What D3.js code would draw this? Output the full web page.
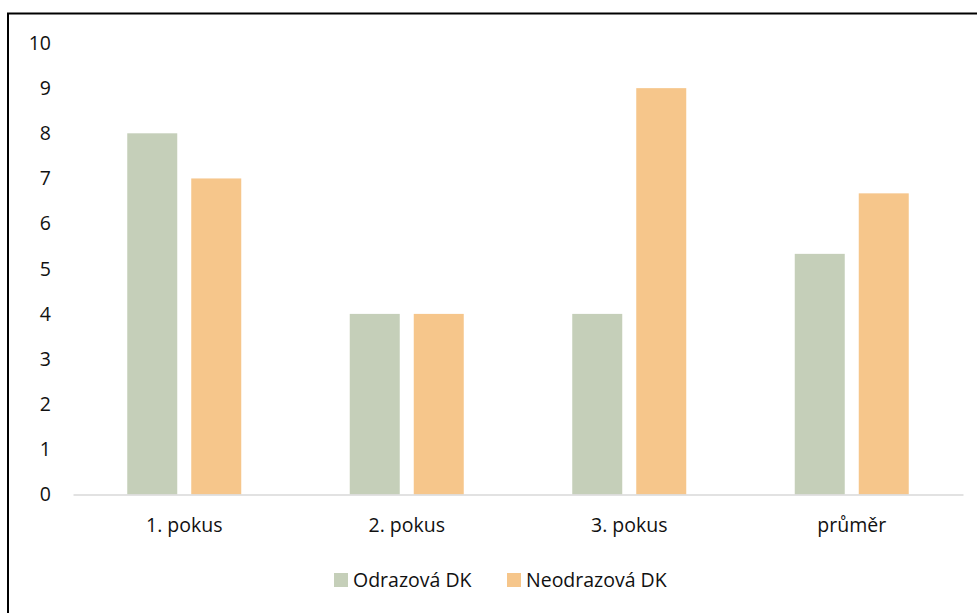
<!DOCTYPE html>
<html>
<head>
<meta charset="utf-8">
<script src="https://cdn.jsdelivr.net/npm/d3@7"></script>
<style>
  html, body { margin: 0; padding: 0; background: #fff; }
  svg { display: block; }
  text { font-family: "Open Sans", "Noto Sans", sans-serif; fill: #111; }
</style>
</head>
<body>
<svg id="chart" width="977" height="613"></svg>
<script>
// Chart data
const categories = ["1. pokus", "2. pokus", "3. pokus", "průměr"];
const seriesNames = ["Odrazová DK", "Neodrazová DK"];
const odrazova = [8, 4, 4, 5.33];
const neodrazova = [7, 4, 9, 6.67];
const yTicks = [0, 1, 2, 3, 4, 5, 6, 7, 8, 9, 10];
const colors = ["#c5cfb9", "#f6c68b"];

const svg = d3.select("#chart");
const W = 977, H = 613;
const FONT = "'Open Sans', 'Noto Sans', sans-serif";
const FS = 19.5;

// Outer frame (runs off the right and bottom edges)
svg.append("rect")
  .attr("x", 8).attr("y", 13.5)
  .attr("width", W + 20).attr("height", H + 20)
  .attr("fill", "#fff").attr("stroke", "#000").attr("stroke-width", 2);

const plot = { left: 73, right: 963, top: 43, bottom: 494.5 };

const x = d3.scaleBand().domain(categories).range([plot.left, plot.right]);
const y = d3.scaleLinear().domain([0, 10]).range([plot.bottom, plot.top]);

const barW = 50, barGap = 14;

// Bars
const series = [odrazova, neodrazova];
series.forEach((vals, si) => {
  svg.append("g").selectAll("rect")
    .data(vals)
    .join("rect")
    .attr("x", (d, i) => x(categories[i]) + x.bandwidth() / 2 - (barW + barGap / 2) + si * (barW + barGap))
    .attr("y", d => y(d))
    .attr("width", barW)
    .attr("height", d => plot.bottom - y(d))
    .attr("fill", colors[si]);
});

// Y axis labels
const yAxis = d3.axisLeft(y).tickValues(yTicks).tickSize(0).tickPadding(0).tickFormat(d3.format("d"));
const gy = svg.append("g").attr("transform", `translate(${plot.left - 22},0)`).call(yAxis);
gy.select(".domain").remove();
gy.selectAll("text").attr("font-size", FS).attr("fill", "#111").attr("font-family", FONT);

// X axis
const xAxis = d3.axisBottom(x).tickSize(0).tickPadding(0);
const gx = svg.append("g").attr("transform", `translate(0,${plot.bottom})`).call(xAxis);
gx.select(".domain").attr("stroke", "#d9d9d9").attr("stroke-width", 1.5);
gx.selectAll("text").attr("font-size", FS).attr("fill", "#111")
  .attr("dy", null).attr("y", 37)
  .attr("font-family", FONT);

// Legend
const legendItems = [{ name: seriesNames[0], color: colors[0], x: 334 }, { name: seriesNames[1], color: colors[1], x: 507 }];
const lg = svg.append("g");
legendItems.forEach(it => {
  lg.append("rect").attr("x", it.x).attr("y", 573).attr("width", 14).attr("height", 14).attr("fill", it.color);
  lg.append("text").attr("x", it.x + 19).attr("y", 586.5).attr("font-size", FS).text(it.name);
});
</script>
</body>
</html>
